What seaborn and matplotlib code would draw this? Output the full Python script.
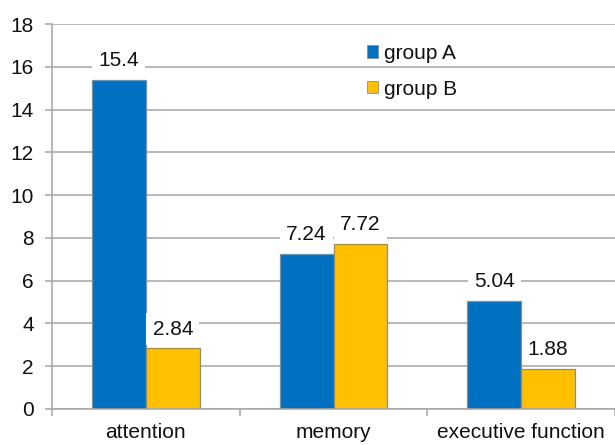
import pandas as pd
import seaborn as sns
import matplotlib.pyplot as plt
from matplotlib.patches import Patch
from matplotlib.ticker import FixedLocator

# Data
domains = ['attention', 'memory', 'executive function']
groups = ['group A', 'group B']
group_a = [15.4, 7.24, 5.04]
group_b = [2.84, 7.72, 1.88]

blue = '#0070C0'
yellow = '#FFC000'
grey = '#A6A6A6'

df = pd.DataFrame({
    'domain': domains * 2,
    'group': [groups[0]] * len(domains) + [groups[1]] * len(domains),
    'score': group_a + group_b,
})

sns.set_theme(style='white')
plt.rcParams['font.family'] = ['Liberation Sans', 'DejaVu Sans']

fig, ax = plt.subplots(figsize=(6.15, 4.45), dpi=100)
fig.subplots_adjust(left=0.0846, right=1.0, bottom=0.081, top=0.946)

sns.barplot(data=df, x='domain', y='score', hue='group', order=domains,
            hue_order=groups, palette=[blue, yellow], width=0.575,
            edgecolor='#8C8C8C', linewidth=0.9, saturation=1, ax=ax, zorder=2)

# Value labels with white background covering the gridlines
for cont in ax.containers:
    ax.bar_label(cont, fmt='%g', padding=7, fontsize=15, color='#111111',
                 bbox=dict(boxstyle='square,pad=0.3', fc='white', ec='none'),
                 zorder=4)

ax.set_ylim(0, 18)
ax.set_yticks(range(0, 19, 2))
ax.set_xlim(-0.5, 2.5)
ax.set_xlabel('')
ax.set_ylabel('')

ax.set_axisbelow(True)
ax.yaxis.grid(True, color=grey, linewidth=1.1)
ax.xaxis.grid(False)

for side in ['top', 'right']:
    ax.spines[side].set_visible(False)
for side in ['left', 'bottom']:
    ax.spines[side].set_color(grey)
    ax.spines[side].set_linewidth(1.1)

ax.tick_params(axis='y', which='major', length=5, width=1.1, color=grey,
               pad=8, labelsize=15, labelcolor='#111111', left=True)
ax.tick_params(axis='x', which='major', length=0, pad=10, labelsize=15,
               labelcolor='#111111')
# category separators on the x axis
ax.xaxis.set_minor_locator(FixedLocator([-0.5, 0.5, 1.5, 2.5]))
ax.tick_params(axis='x', which='minor', length=5, width=1.1, color=grey,
               bottom=True)

ax.get_legend().remove()
handles = [Patch(facecolor=blue, edgecolor='#8C8C8C', linewidth=0.6),
           Patch(facecolor=yellow, edgecolor='#8C8C8C', linewidth=0.6)]
ax.legend(handles, groups, loc='upper left', bbox_to_anchor=(0.544, 0.97),
          frameon=False, fontsize=15, handlelength=0.55, handleheight=0.55,
          handletextpad=0.3, labelspacing=0.8, borderaxespad=0,
          labelcolor='#111111')

plt.savefig('out.png', dpi=100)
